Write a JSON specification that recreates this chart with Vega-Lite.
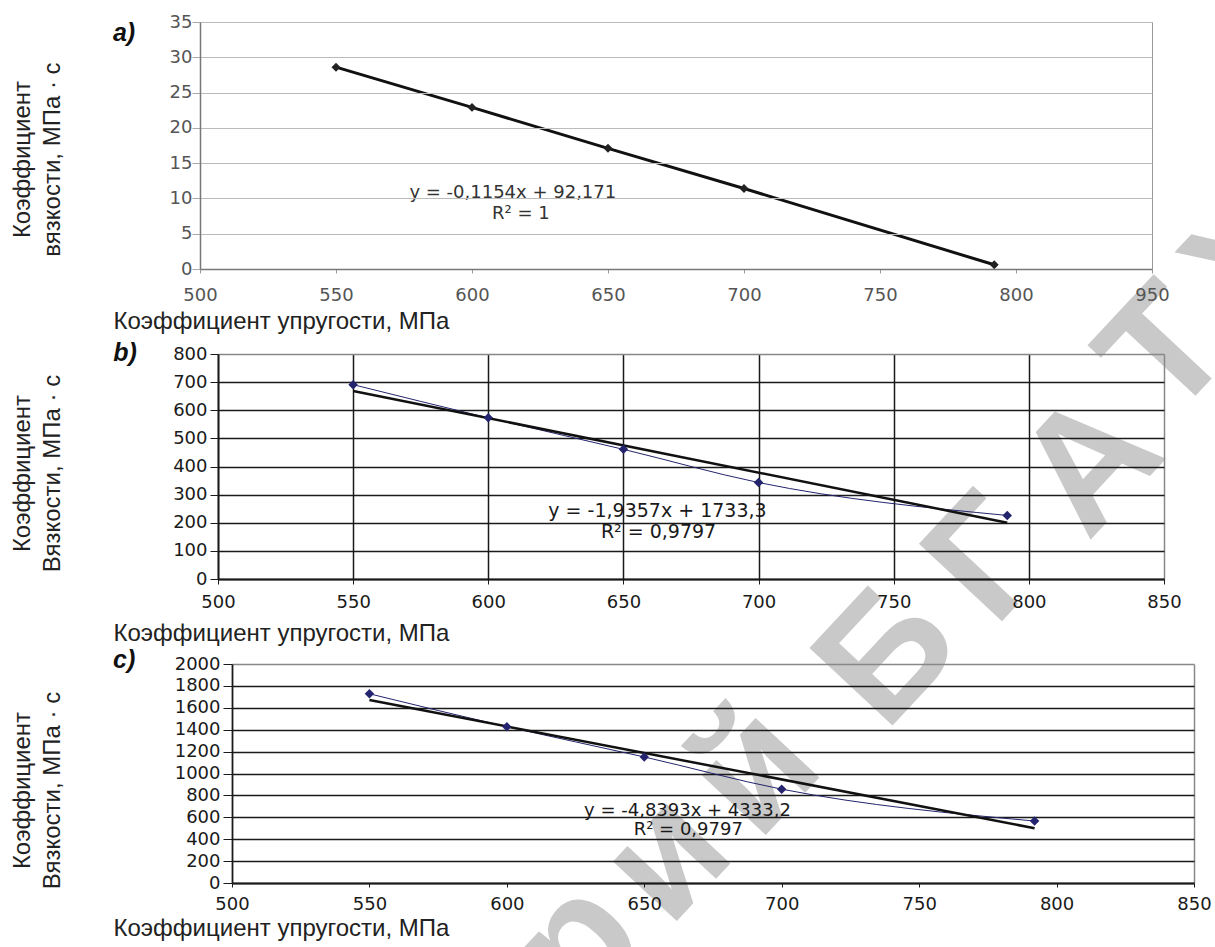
{
  "$schema": "https://vega.github.io/schema/vega-lite/v6.json",
  "padding": {"left": 9, "top": 12, "right": 0, "bottom": 0},
  "background": "white",
  "bounds": "flush",
  "spacing": 85,
  "datasets": {
    "a_pts": [
      {"x": 550, "y": 28.6},
      {"x": 600, "y": 22.9},
      {"x": 650, "y": 17.1},
      {"x": 700, "y": 11.4},
      {"x": 792, "y": 0.6}
    ],
    "b_pts": [
      {"x": 550, "y": 691},
      {"x": 600, "y": 573},
      {"x": 650, "y": 461},
      {"x": 700, "y": 343},
      {"x": 792, "y": 226}
    ],
    "b_trend": [
      {"x": 550, "y": 668.7},
      {"x": 792, "y": 200.2}
    ],
    "c_pts": [
      {"x": 550, "y": 1728},
      {"x": 600, "y": 1427},
      {"x": 650, "y": 1151},
      {"x": 700, "y": 857},
      {"x": 792, "y": 566}
    ],
    "c_trend": [
      {"x": 550, "y": 1671.6},
      {"x": 792, "y": 500.5}
    ],
    "a_text": [
      {"x": 615, "y": 10.7, "t": "y = -0,1154x + 92,171"},
      {"x": 618, "y": 7.8, "t": "R² = 1"}
    ],
    "a_lab": [{"x": 468, "y": 33.4, "t": "a)"}],
    "watermark": [
      {"x": 639.0, "y": -95.65, "t": "р"},
      {"x": 671.7, "y": -83.46, "t": "и"},
      {"x": 704.4, "y": -71.28, "t": "й"},
      {"x": 753.3, "y": -54.84, "t": "Б"},
      {"x": 790.4, "y": -41.38, "t": "Г"},
      {"x": 827.9, "y": -27.77, "t": "А"},
      {"x": 855.5, "y": -11.9, "t": "Т"},
      {"x": 888.2, "y": 1.56, "t": "У"}
    ],
    "b_text": [
      {"x": 662.6, "y": 241, "t": "y = -1,9357x + 1733,3"},
      {"x": 663, "y": 166, "t": "R² = 0,9797"}
    ],
    "b_lab": [{"x": 461.2, "y": 804, "t": "b)"}],
    "c_text": [
      {"x": 665.7, "y": 660, "t": "y = -4,8393x + 4333,2"},
      {"x": 666, "y": 482, "t": "R² = 0,9797"}
    ],
    "c_lab": [{"x": 456.7, "y": 2036, "t": "c)"}]
  },
  "vconcat": [
    {
      "width": 952,
      "height": 247,
      "view": {"stroke": "#999", "strokeWidth": 1},
      "encoding": {
        "x": {"field": "x", "type": "quantitative", "scale": {"domain": [500, 850], "nice": false, "zero": false},
          "axis": {"zindex": 1, "values": [500, 550, 600, 650, 700, 750, 800, 850], "labelExpr": "datum.value == 850 ? '950' : datum.label", "grid": false, "tickSize": 4, "tickColor": "#999", "domainColor": "#777", "domainWidth": 1.5, "labelFont": "DejaVu Sans", "labelFontSize": 18, "labelColor": "#555", "labelBaseline": "middle", "labelPadding": 22, "labelFlush": false, "labelOverlap": false,
            "title": "Коэффициент упругости, МПа", "titleFont": "Liberation Sans", "titleFontSize": 24, "titleFontWeight": "normal", "titleColor": "#222", "titleX": -87, "titleY": 52, "titleAlign": "left", "titleAnchor": "start", "titleBaseline": "middle"}},
        "y": {"field": "y", "type": "quantitative", "scale": {"domain": [0, 35], "nice": false},
          "axis": {"zindex": 1, "values": [0, 5, 10, 15, 20, 25, 30, 35], "grid": true, "gridColor": "#bbb", "gridWidth": 1.2, "tickSize": 8, "tickColor": "#aaa", "domainColor": "#777", "domainWidth": 1.5, "labelFont": "DejaVu Sans", "labelFontSize": 18, "labelColor": "#555", "labelPadding": 0, "labelFlush": false, "labelOverlap": false,
            "title": ["Коэффициент", "вязкости, МПа · с"], "titleFont": "Liberation Sans", "titleFontSize": 24, "titleFontWeight": "normal", "titleColor": "#222", "titleLineHeight": 30, "titleX": -178, "titleY": 137, "titleBaseline": "middle", "titleAngle": 270}}
      },
      "layer": [
        {"data": {"name": "watermark"}, "mark": {"type": "text", "font": "Liberation Sans", "fontSize": 165, "fontWeight": "bold", "color": "#c9c9c9", "align": "center", "baseline": "middle", "angle": -47}, "encoding": {"text": {"field": "t"}}},
        {"data": {"name": "a_pts"}, "mark": {"type": "line", "color": "#111", "strokeWidth": 3}},
        {"data": {"name": "a_pts"}, "mark": {"type": "point", "shape": "diamond", "filled": true, "size": 80, "color": "#222", "opacity": 1}},
        {"data": {"name": "a_text"}, "mark": {"type": "text", "font": "DejaVu Sans", "fontSize": 18, "color": "#333", "align": "center", "baseline": "middle"}, "encoding": {"text": {"field": "t"}}},
        {"data": {"name": "a_lab"}, "mark": {"type": "text", "font": "Liberation Sans", "fontSize": 25, "fontWeight": "bold", "fontStyle": "italic", "color": "#111", "align": "left", "baseline": "middle"}, "encoding": {"text": {"field": "t"}}}
      ]
    },
    {
      "width": 964,
      "height": 225,
      "view": {"stroke": null},
      "encoding": {
        "x": {"field": "x", "type": "quantitative", "scale": {"domain": [500, 850], "nice": false, "zero": false, "range": [18, 964]},
          "axis": {"values": [500, 550, 600, 650, 700, 750, 800, 850], "grid": true, "gridColor": {"condition": {"test": "datum.value == 850", "value": "#888"}, "value": "#1a1a1a"}, "gridWidth": 1.5, "tickSize": 5, "tickColor": "#1a1a1a", "domainColor": "#1a1a1a", "domainWidth": 1.8, "labelFont": "DejaVu Sans", "labelFontSize": 18, "labelColor": "#1a1a1a", "labelBaseline": "middle", "labelPadding": 18, "labelFlush": false, "labelOverlap": false,
            "title": "Коэффициент упругости, МПа", "titleFont": "Liberation Sans", "titleFontSize": 24, "titleFontWeight": "normal", "titleColor": "#222", "titleX": -87, "titleY": 54, "titleAlign": "left", "titleAnchor": "start", "titleBaseline": "middle"}},
        "y": {"field": "y", "type": "quantitative", "scale": {"domain": [0, 800], "nice": false},
          "axis": {"offset": -18, "values": [0, 100, 200, 300, 400, 500, 600, 700, 800], "grid": true, "gridColor": {"condition": {"test": "datum.value == 800", "value": "#888"}, "value": "#1a1a1a"}, "gridWidth": 1.5, "tickSize": 8, "tickColor": "#1a1a1a", "domainColor": "#1a1a1a", "domainWidth": 1.8, "labelFont": "DejaVu Sans", "labelFontSize": 18, "labelColor": "#1a1a1a", "labelPadding": 3, "labelFlush": false, "labelOverlap": false,
            "title": ["Коэффициент", "Вязкости, МПа · с"], "titleFont": "Liberation Sans", "titleFontSize": 24, "titleFontWeight": "normal", "titleColor": "#222", "titleLineHeight": 30, "titleX": -196, "titleY": 119, "titleBaseline": "middle", "titleAngle": 270}}
      },
      "layer": [
        {"data": {"name": "b_pts"}, "mark": {"type": "line", "color": "#24246e", "strokeWidth": 1, "interpolate": "monotone"}},
        {"data": {"name": "b_trend"}, "mark": {"type": "line", "color": "#111", "strokeWidth": 2.5}},
        {"data": {"name": "b_pts"}, "mark": {"type": "point", "shape": "diamond", "filled": true, "size": 90, "color": "#24246e", "opacity": 1}},
        {"data": {"name": "b_text"}, "mark": {"type": "text", "font": "DejaVu Sans", "fontSize": 19, "color": "#1a1a1a", "align": "center", "baseline": "middle"}, "encoding": {"text": {"field": "t"}}},
        {"data": {"name": "b_lab"}, "mark": {"type": "text", "font": "Liberation Sans", "fontSize": 25, "fontWeight": "bold", "fontStyle": "italic", "color": "#111", "align": "left", "baseline": "middle"}, "encoding": {"text": {"field": "t"}}}
      ]
    },
    {
      "width": 994,
      "height": 219,
      "view": {"stroke": null},
      "encoding": {
        "x": {"field": "x", "type": "quantitative", "scale": {"domain": [500, 850], "nice": false, "zero": false, "range": [32, 994]},
          "axis": {"values": [500, 550, 600, 650, 700, 750, 800, 850], "grid": true, "gridColor": "#888", "gridWidth": 1.5, "gridOpacity": {"condition": {"test": "datum.value == 850", "value": 1}, "value": 0}, "tickSize": 4, "tickColor": "#1a1a1a", "domainColor": "#1a1a1a", "domainWidth": 1.8, "labelFont": "DejaVu Sans", "labelFontSize": 18, "labelColor": "#1a1a1a", "labelBaseline": "middle", "labelPadding": 17, "labelFlush": false, "labelOverlap": false,
            "title": "Коэффициент упругости, МПа", "titleFont": "Liberation Sans", "titleFontSize": 24, "titleFontWeight": "normal", "titleColor": "#222", "titleX": -87, "titleY": 45, "titleAlign": "left", "titleAnchor": "start", "titleBaseline": "middle"}},
        "y": {"field": "y", "type": "quantitative", "scale": {"domain": [0, 2000], "nice": false},
          "axis": {"offset": -32, "values": [0, 200, 400, 600, 800, 1000, 1200, 1400, 1600, 1800, 2000], "format": "d", "grid": true, "gridColor": {"condition": {"test": "datum.value == 2000", "value": "#888"}, "value": "#1a1a1a"}, "gridWidth": 1.5, "tickSize": 9, "tickColor": "#1a1a1a", "domainColor": "#1a1a1a", "domainWidth": 1.8, "labelFont": "DejaVu Sans", "labelFontSize": 18, "labelColor": "#1a1a1a", "labelPadding": 3, "labelFlush": false, "labelOverlap": false,
            "title": ["Коэффициент", "Вязкости, МПа · с"], "titleFont": "Liberation Sans", "titleFontSize": 24, "titleFontWeight": "normal", "titleColor": "#222", "titleLineHeight": 30, "titleX": -210, "titleY": 126, "titleBaseline": "middle", "titleAngle": 270}}
      },
      "layer": [
        {"data": {"name": "c_pts"}, "mark": {"type": "line", "color": "#24246e", "strokeWidth": 1, "interpolate": "monotone"}},
        {"data": {"name": "c_trend"}, "mark": {"type": "line", "color": "#111", "strokeWidth": 2.5}},
        {"data": {"name": "c_pts"}, "mark": {"type": "point", "shape": "diamond", "filled": true, "size": 90, "color": "#24246e", "opacity": 1}},
        {"data": {"name": "c_text"}, "mark": {"type": "text", "font": "DejaVu Sans", "fontSize": 18, "color": "#1a1a1a", "align": "center", "baseline": "middle"}, "encoding": {"text": {"field": "t"}}},
        {"data": {"name": "c_lab"}, "mark": {"type": "text", "font": "Liberation Sans", "fontSize": 25, "fontWeight": "bold", "fontStyle": "italic", "color": "#111", "align": "left", "baseline": "middle"}, "encoding": {"text": {"field": "t"}}}
      ]
    }
  ]
}
